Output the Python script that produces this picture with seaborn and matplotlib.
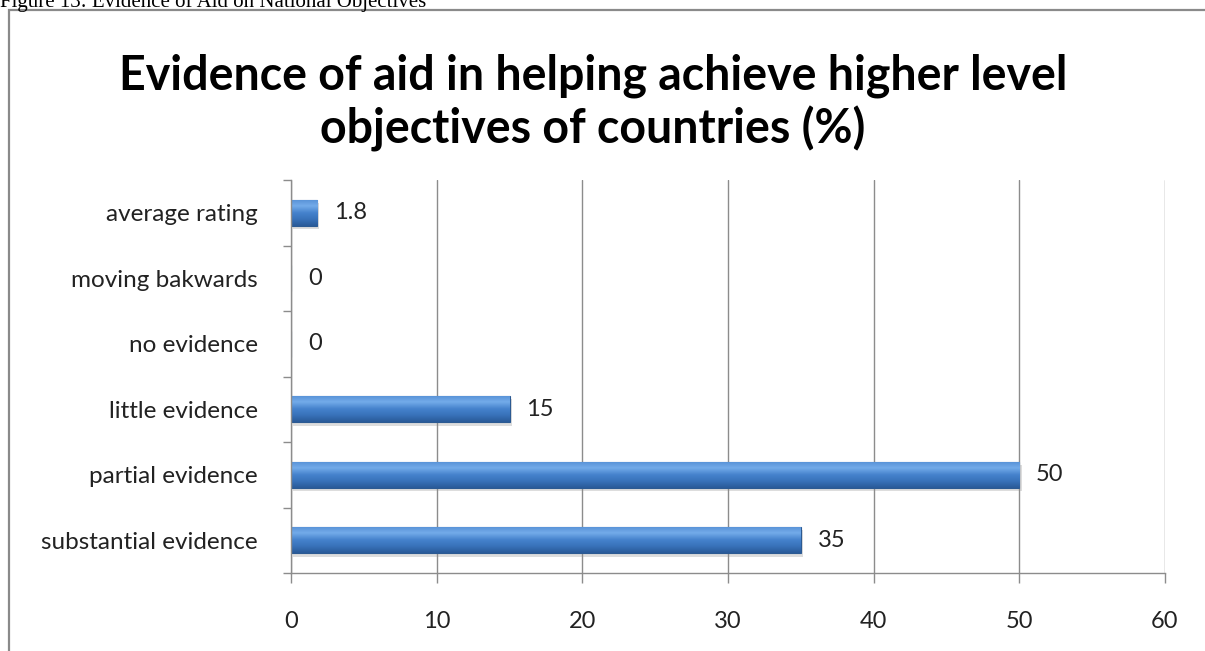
import numpy as np
import pandas as pd
import matplotlib
matplotlib.use("Agg")
import matplotlib.pyplot as plt
from matplotlib.patches import Rectangle
from matplotlib.colors import LinearSegmentedColormap
import seaborn as sns

# Data
categories = ["average rating", "moving bakwards", "no evidence",
              "little evidence", "partial evidence", "substantial evidence"]
values = [1.8, 0, 0, 15, 50, 35]
value_labels = ["1.8", "0", "0", "15", "50", "35"]
x_ticks = [0, 10, 20, 30, 40, 50, 60]

sns.set_theme(style="white")
plt.rcParams["font.family"] = ["Lato", "DejaVu Sans"]

W, H = 1205, 651
fig = plt.figure(figsize=(W / 100, H / 100), dpi=100)
fig.patch.set_facecolor("white")

# Page caption above the chart frame
fig.text(0.0, 1 - 7 / H, "Figure 13: Evidence of Aid on National Objectives",
         family="Liberation Serif", fontsize=15, color="black",
         ha="left", va="baseline")

# Chart frame (runs past the right and bottom edges)
fig.patches.append(Rectangle((9 / W, -0.2), 1.2, 1.2 - 10 / H,
                             transform=fig.transFigure, fill=False,
                             edgecolor="#8a8a8a", linewidth=1.6))

ax = fig.add_axes([291 / W, 1 - 573 / H, (1165 - 291) / W, (573 - 180) / H])

df = pd.DataFrame({"category": categories, "value": values})
sns.barplot(data=df, y="category", x="value", orient="h", ax=ax,
            color="#4a84c8", width=0.4, edgecolor="#2c5a92", linewidth=0.8,
            saturation=1)

# Bevelled gradient fill and soft drop shadow for each bar
grad = LinearSegmentedColormap.from_list(
    "bevel", ["#2a5a98", "#3872ba", "#4683cd", "#74acea", "#5690d6"])
gimg = np.linspace(0, 1, 64).reshape(-1, 1)
for p in list(ax.patches):
    x0, y0 = p.get_x(), p.get_y()
    w, h = p.get_width(), p.get_height()
    if w <= 0:
        continue
    shadow = Rectangle((x0 + 0.15, y0 + 0.05), w, h, facecolor="#b5b5b5",
                       edgecolor="none", alpha=0.45, zorder=p.get_zorder() - 0.5)
    ax.add_patch(shadow)
    im = ax.imshow(gimg, cmap=grad, aspect="auto",
                   extent=(x0, x0 + w, y0 + h, y0), origin="lower",
                   zorder=p.get_zorder() + 0.1, interpolation="bicubic")
    im.set_clip_path(p)

for i, (v, lab) in enumerate(zip(values, value_labels)):
    ax.text(v + 1.15, i, lab, ha="left", va="center", fontsize=17,
            color="#222222")

ax.set_xlim(0, 60)
ax.set_ylim(5.5, -0.5)
ax.set_xticks(x_ticks)
ax.set_xticklabels([str(t) for t in x_ticks], fontsize=17, color="#222222")
ax.set_yticks(range(len(categories)))
ax.set_yticklabels(categories, fontsize=17.5, color="#222222")
ax.set_xlabel("")
ax.set_ylabel("")

ax.xaxis.grid(True, color="#8c8c8c", linewidth=1.0)
ax.set_axisbelow(True)
for side in ["top", "right"]:
    ax.spines[side].set_visible(False)
for side in ["left", "bottom"]:
    ax.spines[side].set_color("#8c8c8c")
    ax.spines[side].set_linewidth(1.0)

# Ticks: x ticks below the axis, y ticks between categories
ax.tick_params(axis="x", which="major", length=7, width=1.0, color="#8c8c8c",
               direction="out", pad=20, bottom=True)
ax.tick_params(axis="y", which="major", length=0, pad=24)
ax.set_yticks(np.arange(-0.5, len(categories), 1.0), minor=True)
ax.tick_params(axis="y", which="minor", length=6, width=1.0, color="#8c8c8c",
               direction="out", left=True)

fig.text(593 / W, 1 - 103 / H,
         "Evidence of aid in helping achieve higher level\nobjectives of countries (%)",
         ha="center", va="center", fontsize=33.5, fontweight="bold",
         color="black", linespacing=1.2)

fig.savefig("out.png", dpi=100)
